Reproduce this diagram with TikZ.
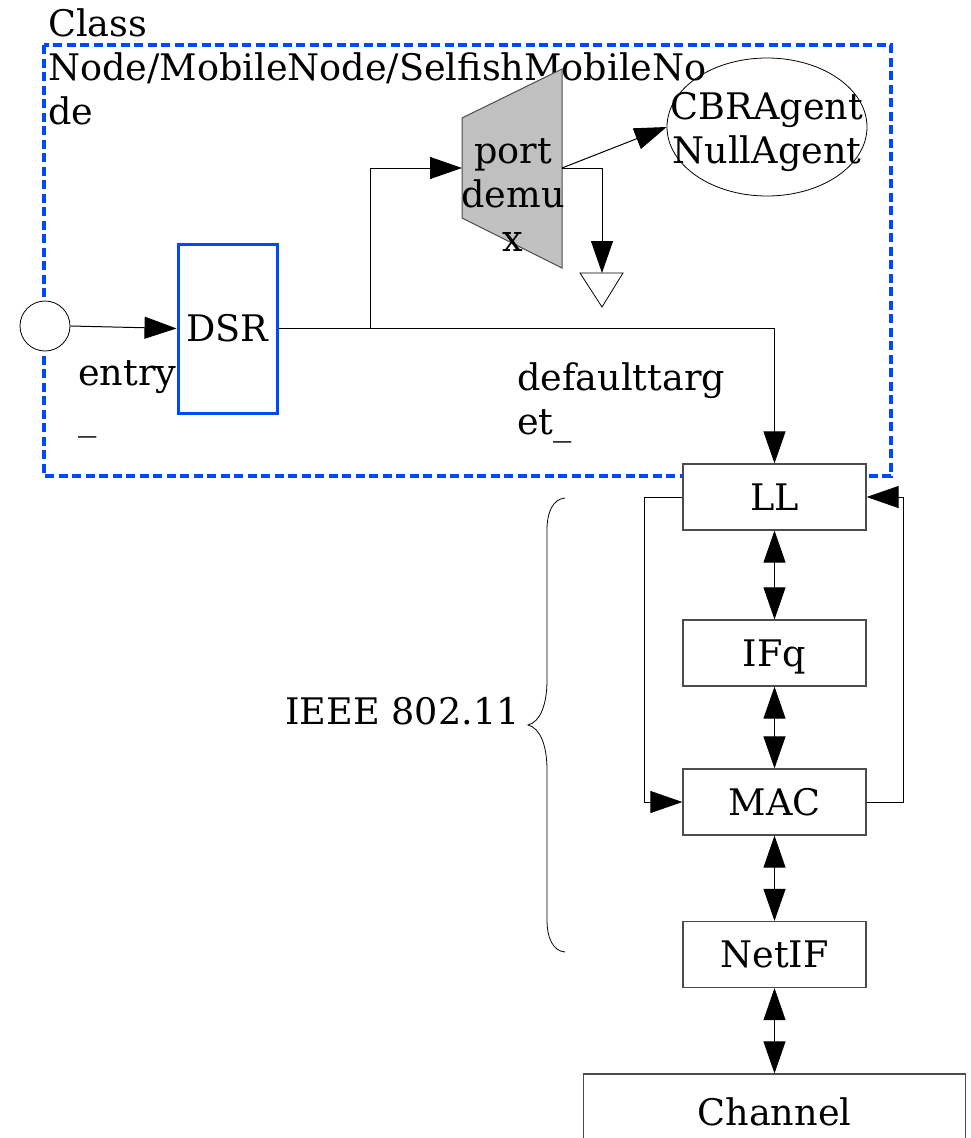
\documentclass[tikz,border=0pt]{standalone}
\usepackage{fontspec}
\setmainfont{DejaVu Serif}
\usetikzlibrary{arrows.meta,shapes.geometric}
\definecolor{frameblue}{RGB}{0,72,255}
\definecolor{muxgray}{RGB}{192,192,192}
% multi-line labels whose reference point is the first baseline
\newcommand\stackleft[1]{\vtop{\halign{##\hfil\cr#1\crcr}}}
\newcommand\stackmid[1]{\vtop{\halign{\hfil##\hfil\cr#1\crcr}}}
\begin{document}
\begin{tikzpicture}[x=1pt,y=-1pt,
  every node/.style={font=\fontsize{36.6}{44}\selectfont, inner sep=0pt},
  frame/.style={draw=frameblue, line width=4pt, dash pattern=on 9pt off 4.5pt},
  layer/.style={draw=black!70, fill=white, line width=1.2pt, minimum width=183pt,
                minimum height=66pt, text height=26.6pt, text depth=0pt},
  tipA/.tip={Triangle[length=32pt,width=22pt]},
  link/.style={line width=1pt, -tipA},
  both/.style={line width=1pt, tipA-tipA},
  plain/.style={line width=1pt}]
\useasboundingbox (0,0) rectangle (971,1138);

% node boundary
\draw[frame] (44,45) rectangle (891,476);
\node[anchor=base west] (cls) at (48,36) {\stackleft{Class\cr Node/MobileNode/SelfishMobileNo\cr de}};

% entry point and routing agent
\node[circle, draw, fill=white, line width=0.8pt, minimum size=50pt] (entry) at (45,326) {};
\node[anchor=base west] (entrylbl) at (78,385) {\stackleft{entry\cr \_}};
\node[draw=frameblue, line width=3pt, minimum width=99pt, minimum height=169pt,
      text height=26.6pt, text depth=0pt] (dsr) at (227.5,328.5) {DSR};

% port demultiplexer
\draw[draw=black!70, fill=muxgray, line width=1pt] (462,118) -- (562,69) -- (562,268) -- (462,218) -- cycle;
\coordinate (muxin) at (462,168);
\coordinate (muxout) at (562,168);
\node[anchor=base] (muxlbl) at (513,163) {\stackmid{port\cr demu\cr x}};

% agents
\node[ellipse, draw, line width=0.8pt, minimum width=200pt, minimum height=138pt] (agent) at (767,127) {};
\node[anchor=base] (agentlbl) at (767,119) {\stackmid{CBRAgent\cr NullAgent}};

% sink
\draw[line width=0.8pt] (580,273) -- (623,273) -- (602,307) -- cycle;
\coordinate (sink) at (602,273);

\node[anchor=base west] (dtlbl) at (517,390) {\stackleft{defaulttarg\cr et\_}};

% protocol stack
\node[layer] (ll) at (774.5,497) {LL};
\node[layer] (ifq) at (774.5,653) {IFq};
\node[layer] (mac) at (774.5,802) {MAC};
\node[layer] (netif) at (774.5,954.5) {NetIF};
\node[layer, minimum width=382pt, minimum height=76pt] (chan) at (774.5,1112) {Channel};

% connectors
\coordinate (split) at (370,328.5);
\draw[link] (entry.east) -- (dsr.west);
\draw[plain] (dsr.east) -- (split);
\draw[link] (split) |- (muxin);
\draw[link] (split) -| (ll.north);
\draw[link] (muxout) -- (agent.west);
\draw[link] (muxout) -| (sink);
\draw[both] (ll.south) -- (ifq.north);
\draw[both] (ifq.south) -- (mac.north);
\draw[both] (mac.south) -- (netif.north);
\draw[both] (netif.south) -- (chan.north);
\draw[link] (ll.west) -- ++(-38,0) |- (mac.west);
\draw[link] (mac.east) -- ++(37,0) |- (ll.east);

% 802.11 brace
\draw[line width=0.8pt] (565,498) .. controls (553,499) and (547,512) .. (547,530)
  -- (547,680) .. controls (547,705) and (540,722) .. (528,725)
  .. controls (540,728) and (547,745) .. (547,770)
  -- (547,920) .. controls (547,938) and (553,951) .. (565,952);
\node[anchor=base east] (ieee) at (520,724) {IEEE 802.11};
\end{tikzpicture}
\end{document}
